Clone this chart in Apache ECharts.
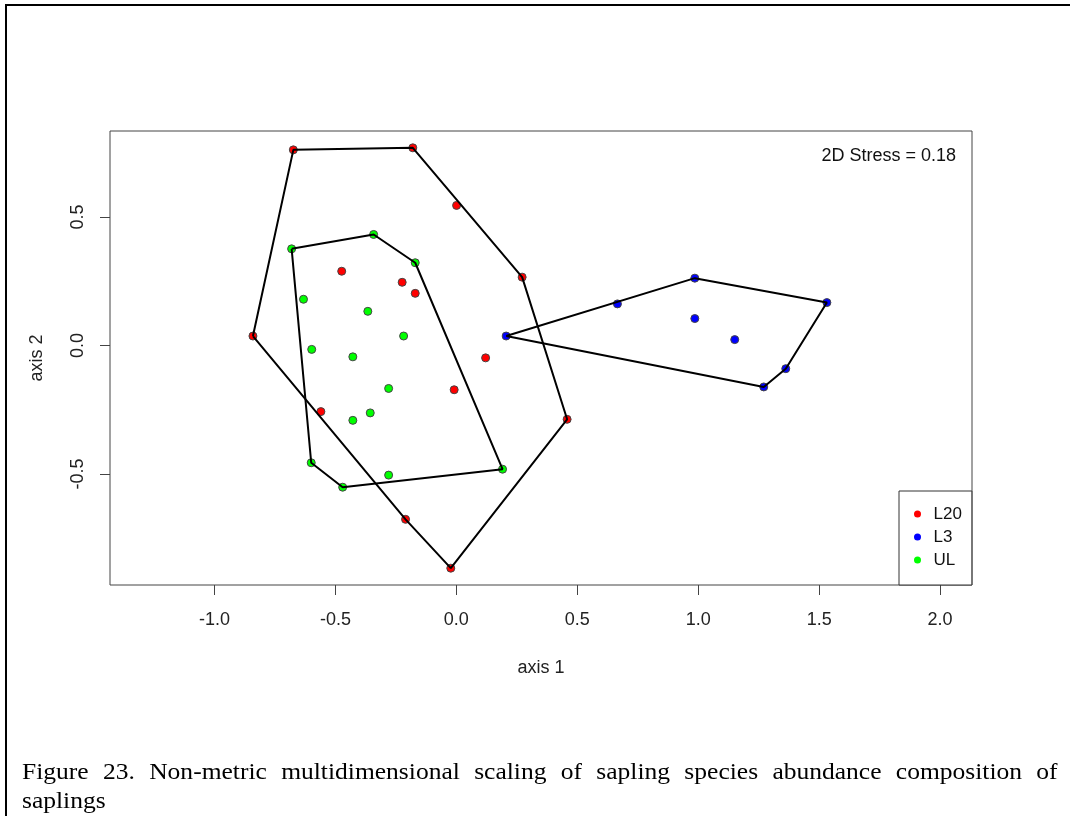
<!DOCTYPE html>
<html>
<head>
<meta charset="utf-8">
<title>NMDS saplings</title>
<script src="https://cdn.jsdelivr.net/npm/echarts@6/dist/echarts.min.js"></script>
<style>
  body { margin: 0; background: #fff; }
  #chart { position: absolute; left: 0; top: 0; width: 1070px; height: 816px; }
  .caption {
    position: absolute; left: 22px; width: 933px;
    font-family: "Liberation Serif", "Times New Roman", serif;
    font-size: 23px; line-height: 29px; color: #000;
    transform: scaleX(1.11); transform-origin: 0 0;
  }
</style>
</head>
<body>
<div id="chart"></div>
<div class="caption" style="top:757px; text-align:justify; text-align-last:justify;">Figure 23. Non-metric multidimensional scaling of sapling species abundance composition of</div>
<div class="caption" style="top:786px;">saplings</div>
<script>
// site scores (axis 1, axis 2)
const l20 = [
  [-0.674, 0.761], [-0.180, 0.769], [0.001, 0.545], [0.272, 0.266],
  [-0.841, 0.037], [-0.474, 0.289], [-0.224, 0.246], [-0.170, 0.203],
  [0.121, -0.048], [-0.009, -0.172], [-0.560, -0.257], [-0.210, -0.676],
  [-0.023, -0.866], [0.458, -0.287],
]
const l3 = [
  [0.206, 0.037], [0.666, 0.162], [0.986, 0.262], [1.532, 0.167],
  [0.986, 0.105], [1.151, 0.023], [1.362, -0.090], [1.271, -0.161],
]
const ul = [
  [-0.681, 0.376], [-0.342, 0.432], [-0.170, 0.322], [-0.632, 0.180],
  [-0.366, 0.133], [-0.218, 0.037], [-0.598, -0.015], [-0.428, -0.044],
  [-0.280, -0.167], [-0.356, -0.262], [-0.428, -0.291], [-0.600, -0.456],
  [-0.470, -0.551], [-0.280, -0.504], [0.191, -0.481],
]
const groupNames = ['L20', 'L3', 'UL']
const groupColors = ['#ff0000', '#0000ff', '#00ff00']
const xTicks = [-1, -0.5, 0, 0.5, 1, 1.5, 2]
const yTicks = [-0.5, 0, 0.5]
const xLim = [-1.3, 2.0]
const stress = 0.18

const font = '"Liberation Sans", Arial, sans-serif'

// R style axis range: limits padded by 4%
function pad(lim) {
  const d = (lim[1] - lim[0]) * 0.04
  return [lim[0] - d, lim[1] + d]
}
const allY = [...l20, ...l3, ...ul].map(p => p[1])
const xRange = pad(xLim)
const yRange = pad([Math.min(...allY), Math.max(...allY)])

// convex hull (monotone chain), closed
function hull(pts) {
  const p = pts.slice().sort((a, b) => a[0] - b[0] || a[1] - b[1])
  const cross = (o, a, b) => (a[0] - o[0]) * (b[1] - o[1]) - (a[1] - o[1]) * (b[0] - o[0])
  const lower = []
  for (const q of p) {
    while (lower.length >= 2 && cross(lower[lower.length - 2], lower[lower.length - 1], q) <= 0) lower.pop()
    lower.push(q)
  }
  const upper = []
  for (const q of p.slice().reverse()) {
    while (upper.length >= 2 && cross(upper[upper.length - 2], upper[upper.length - 1], q) <= 0) upper.pop()
    upper.push(q)
  }
  const h = lower.slice(0, -1).concat(upper.slice(0, -1))
  h.push(h[0])
  return h
}

const groups = [l20, l3, ul]
const series = []
groups.forEach((data, i) => {
  series.push({
    type: 'scatter',
    name: groupNames[i],
    data,
    symbolSize: 8,
    itemStyle: { color: groupColors[i], borderColor: '#444', borderWidth: 1, opacity: 1 },
    z: 2,
  })
})
groups.forEach((data) => {
  series.push({
    type: 'line',
    data: hull(data),
    symbol: 'none',
    silent: true,
    lineStyle: { color: '#000', width: 2 },
    z: 3,
  })
})

const chart = echarts.init(document.getElementById('chart'))
chart.setOption({
  animation: false,
  grid: {
    left: 110, top: 131, width: 862, height: 454,
    show: true, borderColor: '#444', borderWidth: 1,
  },
  xAxis: {
    type: 'value',
    min: xRange[0], max: xRange[1],
    name: 'axis 1', nameLocation: 'middle', nameGap: 74,
    nameTextStyle: { fontFamily: font, fontSize: 18, color: '#222' },
    axisLine: { show: false, onZero: false },
    splitLine: { show: false },
    axisTick: { show: true, length: 10, lineStyle: { color: '#444' }, customValues: xTicks },
    axisLabel: {
      fontFamily: font, fontSize: 18, color: '#222', margin: 26,
      customValues: xTicks, formatter: v => v.toFixed(1),
    },
  },
  yAxis: {
    type: 'value',
    min: yRange[0], max: yRange[1],
    name: 'axis 2', nameLocation: 'middle', nameGap: 64, nameRotate: 90,
    nameTextStyle: { fontFamily: font, fontSize: 18, color: '#222' },
    axisLine: { show: false, onZero: false },
    splitLine: { show: false },
    axisTick: { show: true, length: 10, lineStyle: { color: '#444' }, customValues: yTicks },
    axisLabel: {
      fontFamily: font, fontSize: 18, color: '#222', margin: 23, rotate: 90,
      customValues: yTicks, formatter: v => v.toFixed(1),
    },
  },
  legend: {
    data: groupNames,
    orient: 'vertical',
    left: 899, top: 491,
    padding: [12, 10, 14, 15],
    itemWidth: 22, itemHeight: 7, itemGap: 1,
    icon: 'circle',
    selectedMode: false,
    itemStyle: { borderWidth: 0 },
    textStyle: { fontFamily: font, fontSize: 17, color: '#111', lineHeight: 22 },
    borderColor: '#333', borderWidth: 1, backgroundColor: '#fff',
  },
  graphic: [
    {
      type: 'rect', z: 100, silent: true,
      shape: { x: 6, y: 5, width: 1200, height: 1000 },
      style: { fill: 'none', stroke: '#000', lineWidth: 2 },
    },
    {
      type: 'text', x: 956, y: 156,
      style: {
        text: '2D Stress = ' + stress.toFixed(2),
        font: '18px "Liberation Sans", Arial, sans-serif',
        fill: '#111', align: 'right', verticalAlign: 'middle',
      },
    },
  ],
  series,
})
</script>
</body>
</html>
